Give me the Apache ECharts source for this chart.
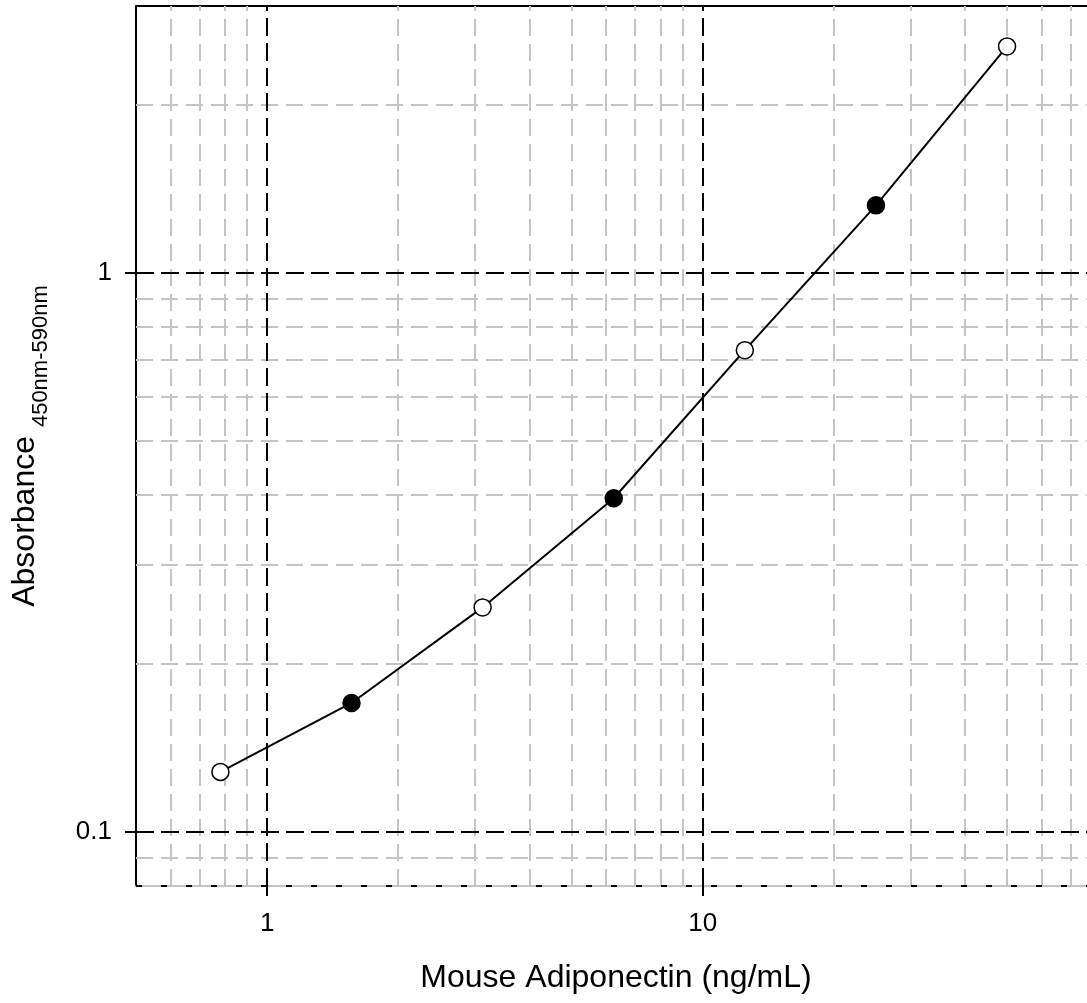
<!DOCTYPE html>
<html><head><meta charset="utf-8">
<script src="https://cdn.jsdelivr.net/npm/echarts@6/dist/echarts.min.js"></script>
<style>html,body{margin:0;padding:0;background:#fff}#c{width:1087px;height:1003px}</style>
</head><body><div id="c"></div>
<script>
// ---- data ----
const concentrations = [0.78125, 1.5625, 3.125, 6.25, 12.5, 25, 50];
const absorbance = [0.128, 0.170, 0.252, 0.395, 0.727, 1.32, 2.54];
const xTickValues = [1, 10];
const yTickValues = [0.1, 1];
const xMinorGrid = [0.6, 0.7, 0.8, 0.9, 2, 3, 4, 5, 6, 7, 8, 9, 20, 30, 40, 50, 60, 70];
const yMinorGrid = [0.09, 0.2, 0.3, 0.4, 0.5, 0.6, 0.7, 0.8, 0.9, 2];
const xRange = [0.5, 76.3];
const yRange = [0.08, 3];

const FONT = "'Liberation Sans', Arial, Helvetica, sans-serif";
const minorStyle = { color: '#c4c4c4', width: 2, type: [17, 8] };
const majorStyle = { color: '#000', width: 2, type: [18, 7] };

const gridLines = [];
xMinorGrid.forEach(v => gridLines.push({ xAxis: v, lineStyle: minorStyle }));
yMinorGrid.forEach(v => gridLines.push({ yAxis: v, lineStyle: minorStyle }));
xTickValues.forEach(v => gridLines.push({ xAxis: v, lineStyle: majorStyle }));
yTickValues.forEach(v => gridLines.push({ yAxis: v, lineStyle: majorStyle }));
gridLines.push({ yAxis: yRange[0], lineStyle: { color: '#000', width: 2, type: [6, 19] } });

const points = concentrations.map((x, i) => ({
  value: [x, absorbance[i]],
  itemStyle: i % 2 === 1
    ? { color: '#000', borderColor: '#000', borderWidth: 1.5 }
    : { color: '#fff', borderColor: '#000', borderWidth: 1.5 }
}));

const chart = echarts.init(document.getElementById('c'), null, { renderer: 'canvas' });
chart.setOption({
  animation: false,
  backgroundColor: '#fff',
  textStyle: { fontFamily: FONT },
  grid: { left: 136, top: 6, right: 0, bottom: 117, containLabel: false },
  xAxis: [{
    type: 'log', logBase: 10, min: xRange[0], max: xRange[1], position: 'bottom',
    axisLine: { show: true, onZero: false, lineStyle: { color: '#c4c4c4', width: 2 } },
    axisTick: { show: true, length: 10, customValues: xTickValues, lineStyle: { color: '#000', width: 2 } },
    axisLabel: { customValues: xTickValues, fontSize: 26, color: '#000', margin: 25, fontFamily: FONT },
    splitLine: { show: false },
    name: 'Mouse Adiponectin (ng/mL)', nameLocation: 'middle', nameGap: 76,
    nameTextStyle: { fontSize: 32, color: '#000', fontFamily: FONT, padding: [0, 0, 0, 9] }
  }, {
    type: 'log', logBase: 10, min: xRange[0], max: xRange[1], position: 'top',
    axisLine: { show: true, onZero: false, lineStyle: { color: '#000', width: 2 } },
    axisTick: { show: false }, axisLabel: { show: false }, splitLine: { show: false }
  }],
  yAxis: {
    type: 'log', logBase: 10, min: yRange[0], max: yRange[1],
    axisLine: { show: true, onZero: false, lineStyle: { color: '#000', width: 2 } },
    axisTick: { show: true, length: 11, customValues: yTickValues, lineStyle: { color: '#000', width: 2 } },
    axisLabel: { customValues: yTickValues, fontSize: 26, color: '#000', margin: 24, fontFamily: FONT },
    splitLine: { show: false },
    name: '{a|Absorbance }{b|450nm-590nm}', nameLocation: 'middle', nameGap: 95,
    nameTextStyle: {
      color: '#000',
      rich: {
        a: { fontSize: 32, lineHeight: 32, verticalAlign: 'top', fontFamily: FONT, color: '#000' },
        b: { fontSize: 22, lineHeight: 22, verticalAlign: 'top', padding: [21, 0, 0, 0], fontFamily: FONT, color: '#000' }
      }
    }
  },
  series: [{
    type: 'line', xAxisIndex: 0, yAxisIndex: 0, z: 3,
    data: points,
    symbol: 'circle', symbolSize: 17, showSymbol: true,
    lineStyle: { color: '#000', width: 2 },
    emphasis: { disabled: true },
    markLine: {
      z: 1, silent: true, animation: false, symbol: ['none', 'none'],
      label: { show: false }, emphasis: { disabled: true },
      data: gridLines
    }
  }]
});
</script></body></html>
